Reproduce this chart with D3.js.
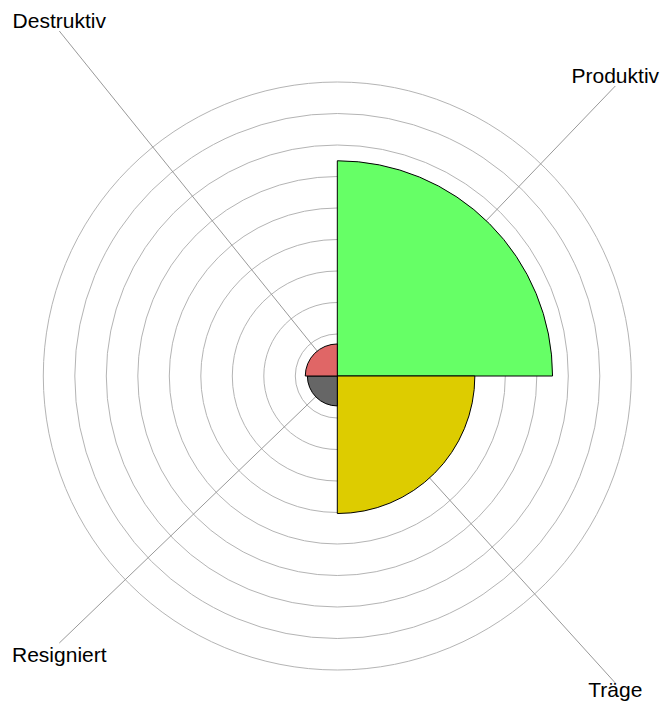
<!DOCTYPE html>
<html>
<head>
<meta charset="utf-8">
<script src="https://cdn.jsdelivr.net/npm/d3@7"></script>
<style>
  html, body { margin: 0; padding: 0; background: #fff; }
  text { font-family: "Liberation Sans", Arial, sans-serif; }
</style>
</head>
<body>
<div id="graphic"></div>
<script>
// Polar-Diagramm: vier Quadranten

// Daten
let categories = ["Produktiv", "Träge", "Resigniert", "Destruktiv"];
let values = [20.5, 13.1, 2.85, 3.05];
let colors = ["#66ff66", "#ddcc00", "#666666", "#e06666"];
let ticks = [4, 7, 10, 13, 16, 19, 22, 25, 28];

// Fenster und Rahmen
let largeur = 660, hauteur = 705;
let cx = 337.3, cy = 376;
let rMax = 294;

let cadre = d3.select("#graphic")
  .append("svg")
  .attr("width", largeur)
  .attr("height", hauteur);

let scaleR = d3.scaleLinear()
  .domain([0, 28])
  .range([0, rMax]);

let g = cadre.append("g")
  .attr("transform", `translate(${cx},${cy})`);

// Gitterkreise
g.append("g").selectAll("circle")
  .data(ticks)
  .enter()
  .append("circle")
    .attr("r", function(d){ return scaleR(d); })
    .attr("fill", "none")
    .attr("stroke", "#b4b4b4")
    .attr("stroke-width", 1);

// Position der Beschriftungen (Ecken), relativ zur Mitte
let labelPos = [
  {x: 278, y: 83, ly: 86},     // Produktiv
  {x: 278, y: 697, ly: 683},   // Träge
  {x: -278, y: 662, ly: 643},  // Resigniert
  {x: -278, y: 28, ly: 31}     // Destruktiv
];

// Speichen
g.append("g").selectAll("line")
  .data(categories)
  .enter()
  .append("line")
    .attr("x1", 0)
    .attr("y1", 0)
    .attr("x2", function(d,i){ return labelPos[i].x; })
    .attr("y2", function(d,i){ return labelPos[i].ly - cy; })
    .attr("stroke", "#999")
    .attr("stroke-width", 1);

// Segmente
let arc = d3.arc()
  .innerRadius(0)
  .outerRadius(function(d){ return scaleR(d.v); })
  .startAngle(function(d){ return d.i * Math.PI / 2; })
  .endAngle(function(d){ return (d.i + 1) * Math.PI / 2; });

g.append("g").selectAll("path")
  .data(values.map(function(v, i){ return {v: v, i: i}; }))
  .enter()
  .append("path")
    .attr("d", arc)
    .attr("fill", function(d){ return colors[d.i]; })
    .attr("stroke", "#000")
    .attr("stroke-width", 1);

// Beschriftungen
cadre.append("g").selectAll("text")
  .data(categories)
  .enter()
  .append("text")
    .attr("x", function(d,i){ return cx + labelPos[i].x; })
    .attr("y", function(d,i){ return labelPos[i].y; })
    .attr("text-anchor", "middle")
    .attr("font-size", "21px")
    .attr("fill", "#000")
    .text(function(d){ return d; });
</script>
</body>
</html>
